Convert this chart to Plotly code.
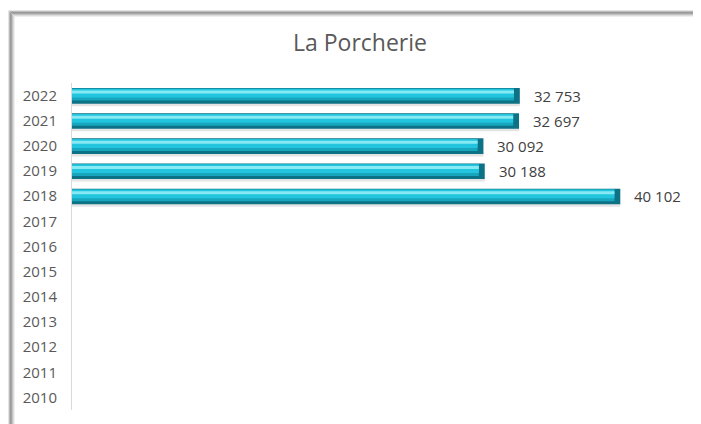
import plotly.graph_objects as go

# ---- data ----
years = [2010, 2011, 2012, 2013, 2014, 2015, 2016, 2017, 2018, 2019, 2020, 2021, 2022]
values = [None, None, None, None, None, None, None, None, 40102, 30188, 30092, 32697, 32753]
title_text = "La Porcherie"

# ---- style ----
# page body has an 8px margin, so the figure is drawn 8px smaller and all
# pixel positions are shifted by -8
OFF = 8
W, H = 701 - OFF, 424 - OFF
ML, MT = 72 - OFF, 83 - OFF
PLOT_R, PLOT_B = 690 - OFF, 410 - OFF
MR, MB = W - PLOT_R, H - PLOT_B
PW, PH = W - ML - MR, H - MT - MB
XMAX = 45200
CAP = 430  # bevel length at bar end (data units, style only)
FONT = "Open Sans"
TXT = "#595959"

def inner(vals):
    return [None if v is None else v - CAP for v in vals]

fig = go.Figure()

layers = [
    # (x-values, offset, width, color)
    (values, -0.42, 0.14, "#e4e4e4"),      # soft shadow under bar
    (values, -0.32, 0.62, "#0d7285"),      # dark body + bevel
    (inner(values), -0.20, 0.47, "#17a6be"),
    (inner(values), -0.08, 0.35, "#22c5dd"),
    (inner(values), 0.08, 0.12, "#86e9f4"),  # highlight
]
for xv, off, wd, col in layers:
    fig.add_trace(go.Bar(
        x=xv, y=years, orientation="h", offset=off, width=wd,
        marker=dict(color=col, line=dict(width=0)),
        hoverinfo="skip", showlegend=False,
    ))

# value labels
for yr, v in zip(years, values):
    if v is None:
        continue
    fig.add_annotation(
        x=v, y=yr, xref="x", yref="y", text=f"{v:,}".replace(",", " "),
        showarrow=False, xanchor="left", yanchor="middle", xshift=12,
        font=dict(family=FONT, size=15, color="#404040"),
    )

# frame (shadowed border) drawn in pixel-converted paper coordinates
def xp(px):
    return (px - OFF - ML) / PW

def yp(py):
    return (H - MB - (py - OFF)) / PH

shades = ["#e4e4e4", "#bcbcbc", "#999999", "#a6a6a6", "#c2c2c2", "#dcdcdc", "#efefef"]
shapes = []
for i, c in enumerate(shades):
    px = 8.5 + i
    py = 10.5 + i
    shapes.append(dict(type="line", xref="paper", yref="paper",
                       x0=xp(px), x1=xp(px), y0=yp(py), y1=yp(440),
                       line=dict(color=c, width=1), layer="below"))
    shapes.append(dict(type="line", xref="paper", yref="paper",
                       x0=xp(px), x1=xp(720), y0=yp(py), y1=yp(py),
                       line=dict(color=c, width=1), layer="below"))

fig.update_layout(
    width=W, height=H,
    margin=dict(l=ML, r=MR, t=MT, b=MB),
    paper_bgcolor="white", plot_bgcolor="white",
    barmode="overlay",
    title=dict(text=title_text, x=(360 - OFF) / W, xanchor="center",
               y=1 - (43 - OFF) / H, yanchor="middle", yref="container",
               font=dict(family=FONT, size=23, color=TXT)),
    shapes=shapes,
    xaxis=dict(range=[0, XMAX], visible=False, showgrid=False, zeroline=False),
    yaxis=dict(range=[2009.5, 2022.5], tickvals=years, ticktext=[str(y) for y in years],
               showgrid=False, zeroline=False, showline=True, linecolor="#d9d9d9",
               linewidth=1, ticks="", ticklabelstandoff=11,
               tickfont=dict(family=FONT, size=15, color=TXT)),
    font=dict(family=FONT),
)

fig.write_html("out.html")
